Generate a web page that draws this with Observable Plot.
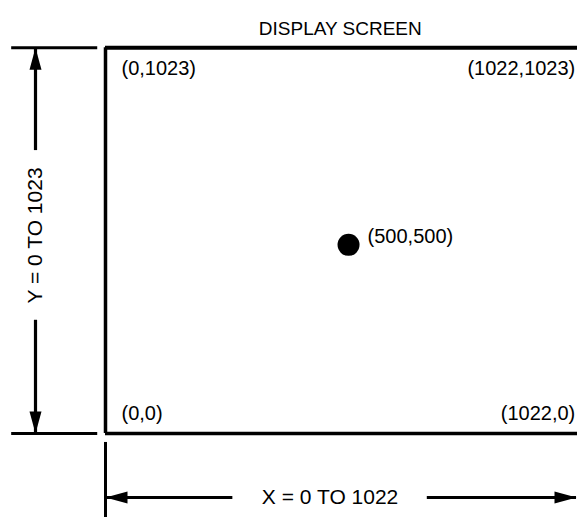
<!DOCTYPE html>
<html>
<head>
<meta charset="utf-8">
<script src="https://cdn.jsdelivr.net/npm/d3@7"></script>
<script src="https://cdn.jsdelivr.net/npm/@observablehq/plot@0.6"></script>
<style>
  html, body { margin: 0; padding: 0; background: #fff; overflow: hidden; }
  #chart svg { display: block; }
</style>
</head>
<body>
<div id="chart"></div>
<script>
// Screen coordinate system (data units)
const title = "DISPLAY SCREEN";
const screenX = [0, 1022];
const screenY = [0, 1023];
const topLeft = [{x: 0, y: 1023, text: "(0,1023)"}];
const topRight = [{x: 1022, y: 1023, text: "(1022,1023)"}];
const bottomLeft = [{x: 0, y: 0, text: "(0,0)"}];
const bottomRight = [{x: 1022, y: 0, text: "(1022,0)"}];
const point = [{x: 500, y: 500, text: "(500,500)"}];
const yDimLabel = "Y = 0 TO 1023";
const xDimLabel = "X = 0 TO 1022";

// visible window (data units)
const xView = [-216, 971];
const yView = [-223, 1148];

// dimension line placement (data units)
const yDimX = -144;           // vertical Y-dimension arrow
const yExtX = [-193, -16];    // extension ticks for Y dimension
const yGap = [300, 750];      // text gap on Y arrow
const xDimY = -170;           // horizontal X-dimension arrow
const xExtY = [-24, -223];    // extension tick for X dimension
const xGap = [262, 662];      // text gap on X arrow
const xArrowEnd = 969;

// custom arrowhead symbol: tip at origin, pointing up
const arrowHead = {
  draw(context) {
    context.moveTo(0, 0);
    context.lineTo(-6, 22);
    context.lineTo(6, 22);
    context.closePath();
  }
};

const heads = [
  {x: yDimX, y: screenY[1], rotate: 0},
  {x: yDimX, y: screenY[0], rotate: 180},
  {x: screenX[0], y: xDimY, rotate: -90},
  {x: xArrowEnd, y: xDimY, rotate: 90}
];

const font = "'Liberation Sans', Arial, sans-serif";
const labelSize = 20;

const chart = Plot.plot({
  width: 577,
  height: 517,
  margin: 0,
  style: {background: "#fff", color: "#000", fontFamily: font},
  x: {domain: xView, axis: null},
  y: {domain: yView, axis: null},
  marks: [
    // screen border (top, left, bottom)
    Plot.ruleY([screenY[1]], {x1: screenX[0], x2: screenX[1], strokeWidth: 4}),
    Plot.ruleY([screenY[0]], {x1: screenX[0], x2: screenX[1], strokeWidth: 3.5}),
    Plot.ruleX([screenX[0]], {y1: screenY[0], y2: screenY[1], strokeWidth: 3.5}),
    // Y dimension
    Plot.ruleY(screenY, {x1: yExtX[0], x2: yExtX[1], strokeWidth: 3}),
    Plot.ruleX([yDimX], {y1: yGap[1], y2: screenY[1], strokeWidth: 3.2}),
    Plot.ruleX([yDimX], {y1: screenY[0], y2: yGap[0], strokeWidth: 3.2}),
    Plot.text([yDimLabel], {x: yDimX, y: (yGap[0] + yGap[1]) / 2, rotate: -90, fontSize: 21}),
    // X dimension
    Plot.ruleX([screenX[0]], {y1: xExtY[0], y2: xExtY[1], strokeWidth: 3}),
    Plot.ruleY([xDimY], {x1: screenX[0], x2: xGap[0], strokeWidth: 3.2}),
    Plot.ruleY([xDimY], {x1: xGap[1], x2: xArrowEnd, strokeWidth: 3.2}),
    Plot.text([xDimLabel], {x: (xGap[0] + xGap[1]) / 2, y: xDimY, fontSize: 21}),
    // arrowheads
    Plot.dot(heads, {x: "x", y: "y", rotate: "rotate", symbol: arrowHead, fill: "#000", stroke: null, r: 6}),
    // corner labels
    Plot.text(topLeft, {x: "x", y: "y", text: "text", textAnchor: "start", dx: 16, dy: 21, fontSize: labelSize}),
    Plot.text(topRight, {x: "x", y: "y", text: "text", textAnchor: "end", dx: -27, dy: 21, fontSize: labelSize}),
    Plot.text(bottomLeft, {x: "x", y: "y", text: "text", textAnchor: "start", dx: 16, dy: -20, fontSize: labelSize}),
    Plot.text(bottomRight, {x: "x", y: "y", text: "text", textAnchor: "end", dx: -27, dy: -20, fontSize: labelSize}),
    // center point
    Plot.dot(point, {x: "x", y: "y", r: 11, fill: "#000", stroke: null}),
    Plot.text(point, {x: "x", y: "y", text: "text", textAnchor: "start", dx: 19, dy: -8, fontSize: labelSize}),
    // title
    Plot.text([title], {x: 483, frameAnchor: "top", dy: 21, fontSize: 19})
  ]
});
document.getElementById("chart").append(chart);
</script>
</body>
</html>
